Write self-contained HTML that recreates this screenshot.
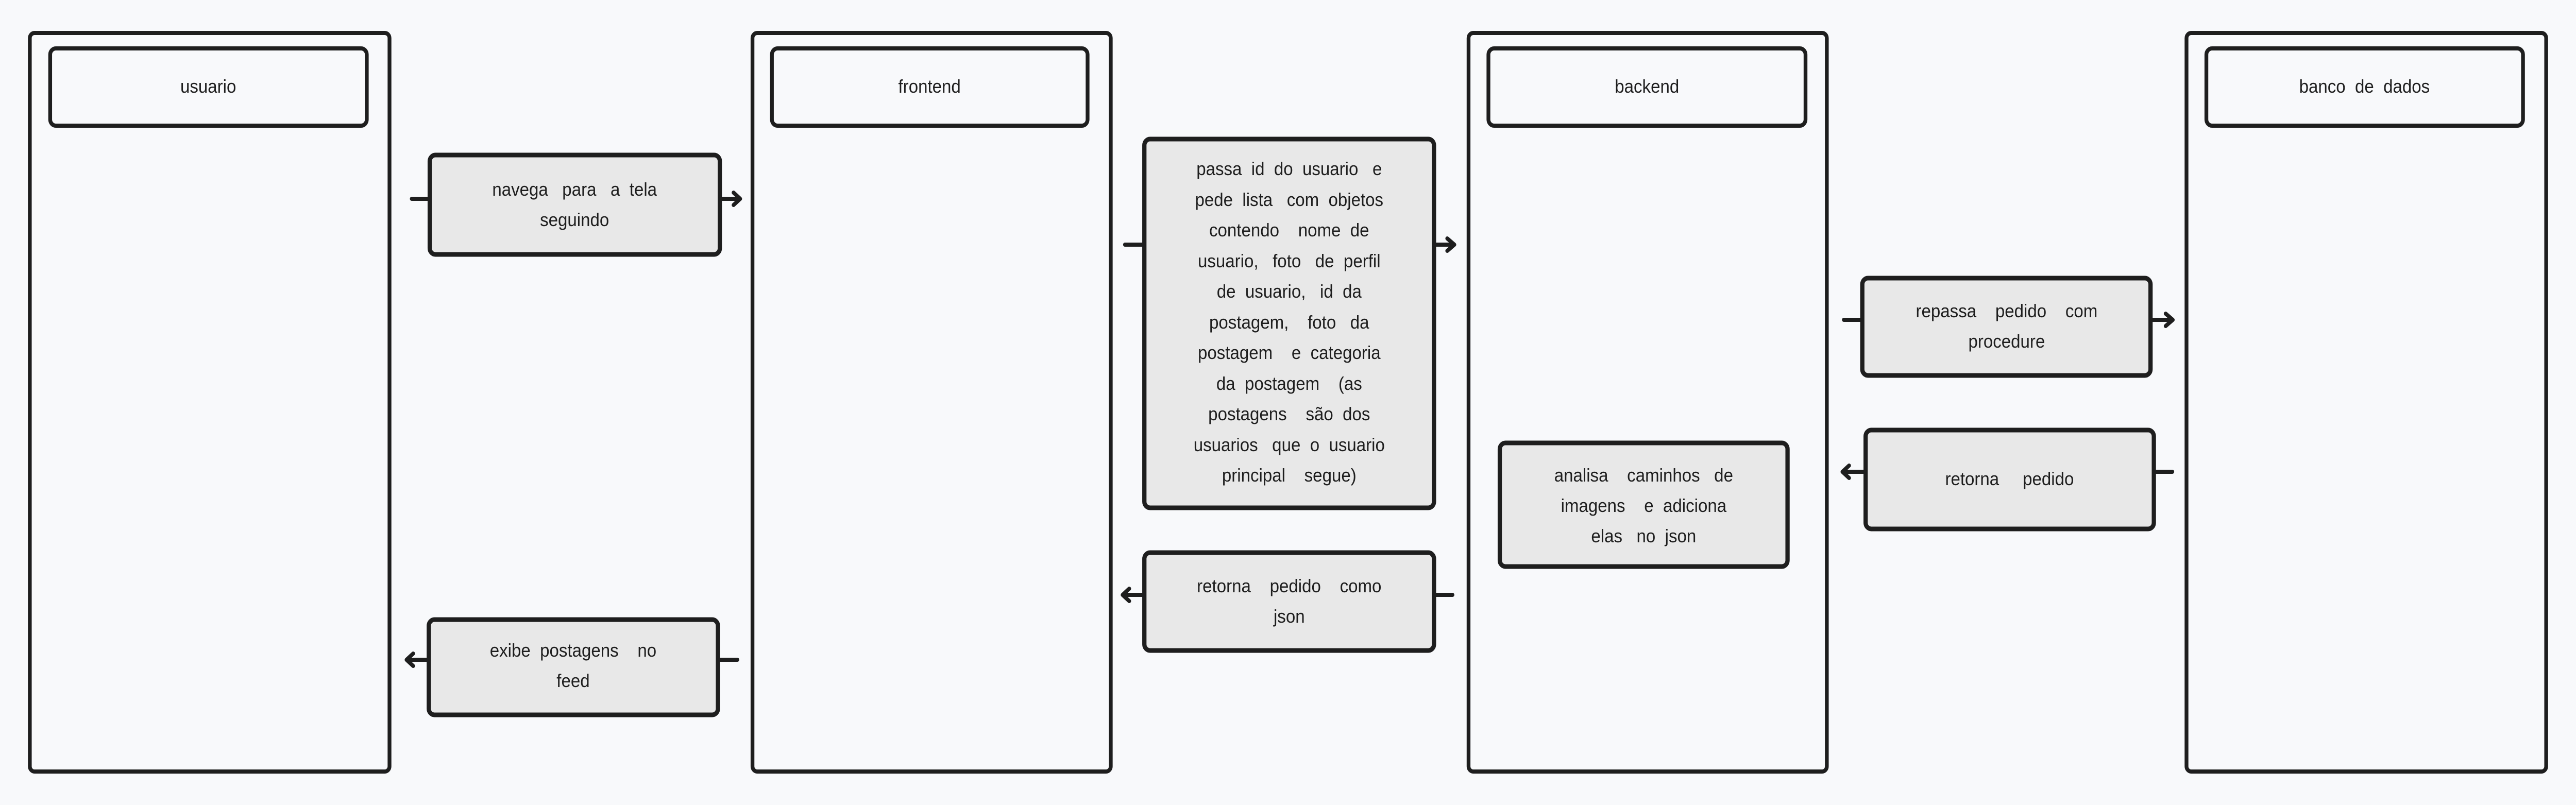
<!DOCTYPE html>
<html><head><meta charset="utf-8"><style>
html,body{margin:0;padding:0;background:#f8f9fb;width:100%;height:100%;overflow:hidden;}
svg{display:block;position:absolute;left:0;top:0;width:100vw;height:100vh}
text{font-family:"Liberation Sans",sans-serif;font-size:36px;fill:#1e1e1e;text-anchor:middle;white-space:pre}
</style></head><body>
<svg viewBox="0 0 5443 1563" preserveAspectRatio="none" xmlns="http://www.w3.org/2000/svg" xml:space="preserve">
<rect width="5443" height="1563" fill="#f8f9fb"/>
<g fill="none" stroke="#1e1e1e" stroke-width="8">
<rect x="63" y="64" width="760" height="1434" rx="10"/>
<rect x="1590" y="64" width="757" height="1434" rx="10"/>
<rect x="3103" y="64" width="757" height="1434" rx="10"/>
<rect x="4620" y="64" width="760" height="1434" rx="10"/>
<rect x="106" y="94" width="669" height="150" rx="12"/>
<rect x="1631" y="94" width="667" height="150" rx="12"/>
<rect x="3145" y="94" width="670" height="150" rx="12"/>
<rect x="4662" y="94" width="669" height="150" rx="12"/>
</g>
<g fill="#e8e8e8" stroke="#1e1e1e" stroke-width="9">
<rect x="908" y="301" width="613" height="193" rx="12"/>
<rect x="906" y="1203" width="611" height="185" rx="12"/>
<rect x="2418" y="270" width="612" height="716" rx="12"/>
<rect x="2418" y="1073" width="612" height="190" rx="12"/>
<rect x="3169" y="860" width="608" height="240" rx="12"/>
<rect x="3935" y="540" width="609" height="189" rx="12"/>
<rect x="3942" y="835" width="609" height="192" rx="12"/>
</g>
<g fill="none" stroke="#1e1e1e" stroke-width="8" stroke-linecap="round" stroke-linejoin="round">
<path d="M870 386H908M1521 386H1562M1550 374L1564 386L1550 398"/>
<path d="M1558 1281H1517M906 1281H861M873 1269L859 1281L873 1293"/>
<path d="M2377 475H2418M3030 475H3072M3058 463L3073 475L3058 487"/>
<path d="M3069 1155H3030M2418 1155H2374M2386 1143L2372 1155L2386 1167"/>
<path d="M3896 621H3935M4544 621H4590M4576 609L4591 621L4576 633"/>
<path d="M4590 916H4551M3942 916H3895M3907 904L3893 916L3907 928"/>
</g>
<text x="440" y="180">usuario</text>
<text x="1964" y="180">frontend</text>
<text x="3480" y="180">backend</text>
<text x="4996" y="180">banco  de  dados</text>
<text x="1214" y="380">navega   para   a  tela</text>
<text x="1214" y="439">seguindo</text>
<text x="1211" y="1275">exibe  postagens    no</text>
<text x="1211" y="1334">feed</text>
<text x="2724" y="340">passa  id  do  usuario   e</text>
<text x="2724" y="400">pede  lista   com  objetos</text>
<text x="2724" y="459">contendo    nome  de</text>
<text x="2724" y="519">usuario,   foto   de  perfil</text>
<text x="2724" y="578">de  usuario,   id  da</text>
<text x="2724" y="638">postagem,    foto   da</text>
<text x="2724" y="697">postagem    e  categoria</text>
<text x="2724" y="757">da  postagem    (as</text>
<text x="2724" y="816">postagens    são  dos</text>
<text x="2724" y="876">usuarios   que  o  usuario</text>
<text x="2724" y="935">principal    segue)</text>
<text x="2724" y="1150">retorna    pedido    como</text>
<text x="2724" y="1209">json</text>
<text x="3473" y="935">analisa    caminhos   de</text>
<text x="3473" y="994">imagens    e  adiciona</text>
<text x="3473" y="1053">elas   no  json</text>
<text x="4240" y="616">repassa    pedido    com</text>
<text x="4240" y="675">procedure</text>
<text x="4246" y="942">retorna     pedido</text>
</svg>
</body></html>
